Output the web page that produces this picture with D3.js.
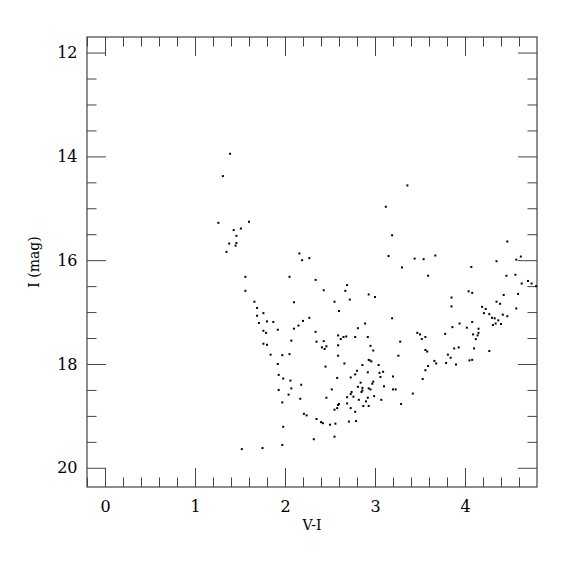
<!DOCTYPE html>
<html>
<head>
<meta charset="utf-8">
<script src="https://cdn.jsdelivr.net/npm/d3@7"></script>
<style>
  html, body { margin: 0; padding: 0; background: #fff; }
  svg { display: block; }
  text { font-family: "DejaVu Serif", "Liberation Serif", serif; fill: #000; }
</style>
</head>
<body>
<svg id="chart" width="575" height="575"></svg>
<script>
// V-I colour index of each star
const vi = [
  1.39,1.31,1.26,1.60,1.43,1.51,1.46,1.38,1.46,1.45,1.35,2.16,2.19,2.27,
  1.56,1.56,1.66,1.69,1.69,1.71,1.52,
  2.05,2.34,2.43,2.10,1.76,1.80,1.87,2.27,2.20,2.15,2.10,1.92,1.76,1.79,2.34,2.07,2.35,2.43,1.76,1.80,2.41,2.44,2.46,1.84,1.97,2.05,1.92,2.45,
  2.69,2.67,2.93,3.00,2.72,2.55,2.60,2.89,2.81,2.59,2.65,2.68,2.62,2.78,2.92,2.59,2.95,2.98,2.59,
  2.66,2.86,2.93,2.94,2.96,3.04,2.58,2.73,2.78,2.80,2.92,3.05,3.09,3.06,2.98,2.97,2.84,2.52,2.81,2.86,2.93,2.95,3.10,2.86,2.85,2.74,2.73,2.76,2.69,2.99,2.82,2.92,2.90,3.07,2.60,2.59,2.69,2.87,2.93,2.73,2.58,2.55,2.78,
  1.98,2.06,2.18,2.07,1.93,2.04,2.17,2.46,1.93,1.97,
  2.21,2.24,2.35,2.40,2.42,2.50,2.56,1.98,2.32,2.55,1.97,1.75,2.71,2.79,
  3.36,3.12,3.19,4.47,3.15,3.44,3.54,3.67,3.30,3.59,4.07,4.35,4.57,4.62,4.46,4.56,4.63,4.70,4.74,4.79,3.85,4.04,4.08,4.43,4.59,
  3.85,4.57,4.35,4.39,4.19,4.23,4.21,4.27,4.42,4.47,4.30,4.33,4.37,4.34,4.31,4.40,4.08,4.02,4.15,4.15,4.14,4.09,4.12,4.10,4.08,4.05,4.27,
  3.94,3.86,3.78,3.93,3.88,3.81,3.84,3.79,3.90,3.68,3.66,3.59,3.56,3.53,3.47,3.50,3.56,3.52,3.56,3.58,3.28,3.26,3.19,3.20,3.20,3.23,3.29,3.42
];
// I magnitude of each star
const imag = [
  13.95,14.38,15.28,15.26,15.42,15.39,15.53,15.68,15.67,15.72,15.84,15.87,16.00,15.96,
  16.32,16.59,16.80,16.92,17.07,17.21,19.64,
  16.32,16.38,16.58,16.81,17.02,17.18,17.19,17.11,17.17,17.26,17.32,17.34,17.36,17.40,17.38,17.55,17.57,17.56,17.61,17.63,17.68,17.71,17.66,17.82,17.83,17.81,18.00,18.05,
  16.48,16.59,16.66,16.71,16.76,16.80,16.98,17.22,17.31,17.45,17.48,17.47,17.52,17.48,17.48,17.64,17.65,17.74,17.84,
  17.99,18.02,17.92,17.93,17.95,18.02,18.27,18.26,18.20,18.13,18.16,18.17,18.15,18.25,18.34,18.38,18.36,18.49,18.44,18.46,18.47,18.49,18.43,18.51,18.54,18.54,18.58,18.63,18.64,18.62,18.69,18.65,18.72,18.69,18.77,18.79,18.76,18.81,18.81,18.85,18.85,18.88,18.92,
  18.28,18.32,18.40,18.47,18.50,18.59,18.67,18.65,18.21,18.74,
  18.96,18.99,19.06,19.12,19.14,19.17,19.15,19.21,19.45,19.40,19.56,19.62,19.11,19.10,
  14.56,14.97,15.52,15.64,15.92,15.97,15.98,15.91,16.14,16.30,16.13,16.02,15.99,15.93,16.30,16.28,16.45,16.40,16.45,16.50,16.72,16.60,16.63,16.67,16.65,
  16.89,16.93,16.80,16.84,16.90,16.94,17.02,17.04,17.05,17.08,17.11,17.12,17.16,17.22,17.25,17.23,17.19,17.30,17.32,17.40,17.45,17.43,17.52,17.70,17.92,17.93,17.75,
  17.22,17.29,17.42,17.68,17.70,17.82,17.88,17.98,18.01,17.99,17.94,18.04,18.12,18.29,17.40,17.43,17.48,17.52,17.73,17.76,17.57,17.84,17.12,18.24,18.49,18.49,18.77,18.57
];
const xMajor = [0, 1, 2, 3, 4];
const xMinor = [-0.2,0.2,0.4,0.6,0.8,1.2,1.4,1.6,1.8,2.2,2.4,2.6,2.8,3.2,3.4,3.6,3.8,4.2,4.4,4.6];
const yMajor = [12, 14, 16, 18, 20];
const yMinor = [12.5,13,13.5,14.5,15,15.5,16.5,17,17.5,18.5,19,19.5];
const xTitle = "V-I";
const yTitle = "I (mag)";

const svg = d3.select("#chart");
const L = 87, R = 537, T = 37, B = 487;
const x = d3.scaleLinear().domain([-0.2, 4.8]).range([L, R]);
const y = d3.scaleLinear().domain([11.7, 20.37]).range([T, B]);

svg.append("rect").attr("width", 575).attr("height", 575).attr("fill", "#fff");

const majorLen = 19, minorLen = 9.5, tickColor = "#444";

function styleAxis(g) {
  g.select(".domain").remove();
  g.selectAll(".tick line").attr("stroke", tickColor).attr("stroke-width", 1);
  g.selectAll(".tick text").attr("font-size", 16).attr("fill", "#000")
    .attr("font-family", '"DejaVu Serif", "Liberation Serif", serif');
}

// bottom
svg.append("g").attr("transform", `translate(0,${B})`)
  .call(d3.axisBottom(x).tickValues(xMajor).tickSize(-majorLen).tickPadding(14).tickFormat(d3.format("d")))
  .call(styleAxis);
svg.append("g").attr("transform", `translate(0,${B})`)
  .call(d3.axisBottom(x).tickValues(xMinor).tickSize(-minorLen).tickFormat(""))
  .call(styleAxis);
// top
svg.append("g").attr("transform", `translate(0,${T})`)
  .call(d3.axisTop(x).tickValues(xMajor).tickSize(-majorLen).tickFormat(""))
  .call(styleAxis);
svg.append("g").attr("transform", `translate(0,${T})`)
  .call(d3.axisTop(x).tickValues(xMinor).tickSize(-minorLen).tickFormat(""))
  .call(styleAxis);
// left
svg.append("g").attr("transform", `translate(${L},0)`)
  .call(d3.axisLeft(y).tickValues(yMajor).tickSize(-majorLen).tickPadding(9.5).tickFormat(d3.format("d")))
  .call(styleAxis);
svg.append("g").attr("transform", `translate(${L},0)`)
  .call(d3.axisLeft(y).tickValues(yMinor).tickSize(-minorLen).tickFormat(""))
  .call(styleAxis);
// right
svg.append("g").attr("transform", `translate(${R},0)`)
  .call(d3.axisRight(y).tickValues(yMajor).tickSize(-majorLen).tickFormat(""))
  .call(styleAxis);
svg.append("g").attr("transform", `translate(${R},0)`)
  .call(d3.axisRight(y).tickValues(yMinor).tickSize(-minorLen).tickFormat(""))
  .call(styleAxis);

// frame
svg.append("rect").attr("x", L).attr("y", T).attr("width", R - L).attr("height", B - T)
  .attr("fill", "none").attr("stroke", tickColor).attr("stroke-width", 1.2);

// points
const pts = vi.map((v, i) => ({ v, m: imag[i] }));
svg.append("g").selectAll("rect").data(pts).join("rect")
  .attr("x", d => x(d.v) - 1).attr("y", d => y(d.m) - 1)
  .attr("width", 2).attr("height", 2).attr("fill", "#000");

// titles
svg.append("text").attr("x", (L + R) / 2).attr("y", 530).attr("text-anchor", "middle")
  .attr("font-size", 14).text(xTitle);
svg.append("text").attr("transform", `translate(39,${(T + B) / 2}) rotate(-90)`)
  .attr("text-anchor", "middle").attr("font-size", 14).text(yTitle);
</script>
</body>
</html>
